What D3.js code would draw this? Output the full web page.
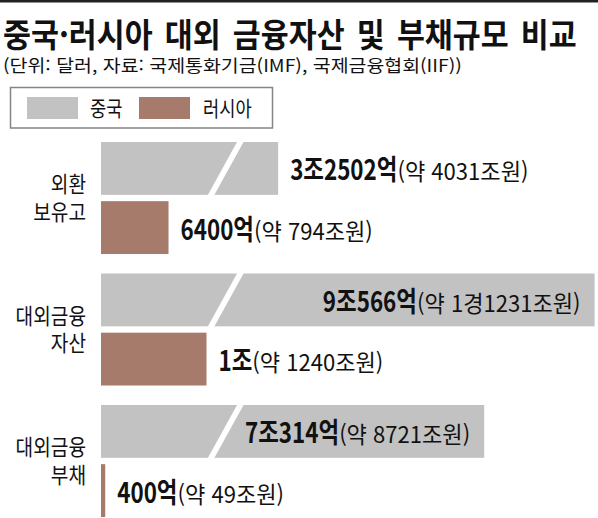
<!DOCTYPE html>
<html lang="ko">
<head>
<meta charset="utf-8">
<script src="https://cdn.jsdelivr.net/npm/d3@7"></script>
<style>
  html, body { margin: 0; padding: 0; background: #fff; }
  svg { display: block; font-family: "Noto Sans CJK KR", sans-serif; }
</style>
</head>
<body>
<div id="chart"></div>
<script>
// data (USD in 억 달러, KRW in 조원)
const categories = [['외환', '보유고'], ['대외금융', '자산'], ['대외금융', '부채']];
const seriesNames = ['중국', '러시아'];
const chinaUsd = [32502, 90566, 70314];
const russiaUsd = [6400, 10000, 400];
const chinaKrw = [4031, 11231, 8721];
const russiaKrw = [794, 1240, 49];

const title = '중국·러시아 대외 금융자산 및 부채규모 비교';
const subtitle = '(단위: 달러, 자료: 국제통화기금(IMF), 국제금융협회(IIF))';

const width = 598, height = 518;
const colors = {'중국': '#c2c2c2', '러시아': '#a67b6b'};
const barLeft = 101;
const BOLD_SX = 0.8, REG_SX = 0.96;

const usdLabel = v => {
  const jo = Math.floor(v / 10000), eok = v % 10000;
  return (jo ? jo + '조' : '') + (eok ? eok + '억' : '');
};
const krwLabel = v => {
  const gyeong = Math.floor(v / 10000), jo = v % 10000;
  return '(약 ' + (gyeong ? gyeong + '경' : '') + jo + '조원)';
};

const svg = d3.select('#chart')
  .append('svg')
    .attr('width', width)
    .attr('height', height);

svg.append('rect').attr('width', width).attr('height', height).attr('fill', '#fff');
svg.append('rect').attr('width', width).attr('height', 2.5).attr('fill', '#222');

function measure(str, size, weight = 400, wordSpacing = 0) {
  const t = svg.append('text')
    .attr('font-size', size).attr('font-weight', weight)
    .attr('word-spacing', wordSpacing)
    .text(str);
  const w = t.node().getComputedTextLength();
  t.remove();
  return w;
}

function squeezed(parent, str, {x, y, size, weight = 400, sx = 1, anchor = 'start'}) {
  return parent.append('text')
    .attr('transform', `translate(${x},${y}) scale(${sx},1)`)
    .attr('font-size', size)
    .attr('font-weight', weight)
    .attr('text-anchor', anchor)
    .attr('fill', '#111')
    .text(str);
}

// title + subtitle, squeezed to the reference widths
const titleSx = 574 / measure(title, 33, 700, 4);
squeezed(svg, title, {x: 3, y: 47, size: 33, weight: 700, sx: titleSx})
  .attr('word-spacing', 4);
const subSx = 459 / measure(subtitle, 17);
squeezed(svg, subtitle, {x: 3, y: 72, size: 17, sx: subSx});

// legend
const legend = svg.append('g');
legend.append('rect')
  .attr('x', 10.5).attr('y', 87.5).attr('width', 262).attr('height', 40.5)
  .attr('fill', '#fff').attr('stroke', '#858585').attr('stroke-width', 1.5);
seriesNames.forEach((name, i) => {
  legend.append('rect')
    .attr('x', 27 + i * 112).attr('y', 97).attr('width', 51).attr('height', 22)
    .attr('fill', colors[name]);
  squeezed(legend, name, {x: 90 + i * 113, y: 116, size: 21, sx: 0.84});
});

// scales
const y0 = d3.scaleBand().domain(d3.range(categories.length)).range([142, 517]).paddingInner(0.148);
const y1 = d3.scaleBand().domain(seriesNames).range([0, y0.bandwidth()]).paddingInner(0.107);
// China bars are drawn at a compressed scale and marked with a break slash
const xChina = d3.scaleLinear().domain([0, 100000]).range([0, 545]);
const xRussia = d3.scaleLinear().domain([0, 10000]).range([0, 105.5]);

const series = [
  {name: '중국', usd: chinaUsd, krw: chinaKrw, x: xChina, broken: true},
  {name: '러시아', usd: russiaUsd, krw: russiaKrw, x: xRussia, broken: false}
];

function valueLabel(parent, x, y, bold, reg, anchor) {
  const bw = measure(bold, 28, 700) * BOLD_SX;
  const rw = measure(reg, 23) * REG_SX;
  const start = anchor === 'end' ? x - bw - rw : x;
  squeezed(parent, bold, {x: start, y, size: 28, weight: 700, sx: BOLD_SX});
  squeezed(parent, reg, {x: start + bw, y, size: 23, sx: REG_SX});
}

const pad = 12;
const brk = {bottom: 107, top: 136, gap: 6.5};

categories.forEach((lines, i) => {
  const g = svg.append('g').attr('transform', `translate(0,${y0(i)})`);
  const mid = y0.bandwidth() / 2;
  const cat = squeezed(g, null, {x: 86, y: mid - 6, size: 21.5, sx: 0.89, anchor: 'end'});
  cat.selectAll('tspan')
    .data(lines)
    .join('tspan')
      .attr('x', 0)
      .attr('dy', (d, j) => j ? 28 : 0)
      .text(d => d);

  series.forEach(s => {
    const by = y1(s.name), bh = y1.bandwidth();
    const w = s.x(s.usd[i]);
    g.append('rect')
      .attr('x', barLeft).attr('y', by)
      .attr('width', w).attr('height', bh)
      .attr('fill', colors[s.name]);
    if (s.broken) {
      g.append('polygon')
        .attr('points', [
          [barLeft + brk.bottom - 0.6, by + bh + 1],
          [barLeft + brk.top + 0.6, by - 1],
          [barLeft + brk.top + brk.gap + 0.6, by - 1],
          [barLeft + brk.bottom + brk.gap - 0.6, by + bh + 1]
        ].map(p => p.join(',')).join(' '))
        .attr('fill', '#fff');
    }
    const bold = usdLabel(s.usd[i]), reg = krwLabel(s.krw[i]);
    const labelW = measure(bold, 28, 700) * BOLD_SX + measure(reg, 23) * REG_SX;
    const ly = by + bh / 2 + 12;
    // label goes inside a long bar, right-aligned; otherwise after the bar end
    if (s.broken && labelW + 2 * pad < w - brk.bottom) {
      valueLabel(g, barLeft + w - pad - 2, ly, bold, reg, 'end');
    } else {
      valueLabel(g, barLeft + w + pad, ly, bold, reg, 'start');
    }
  });
});
</script>
</body>
</html>
